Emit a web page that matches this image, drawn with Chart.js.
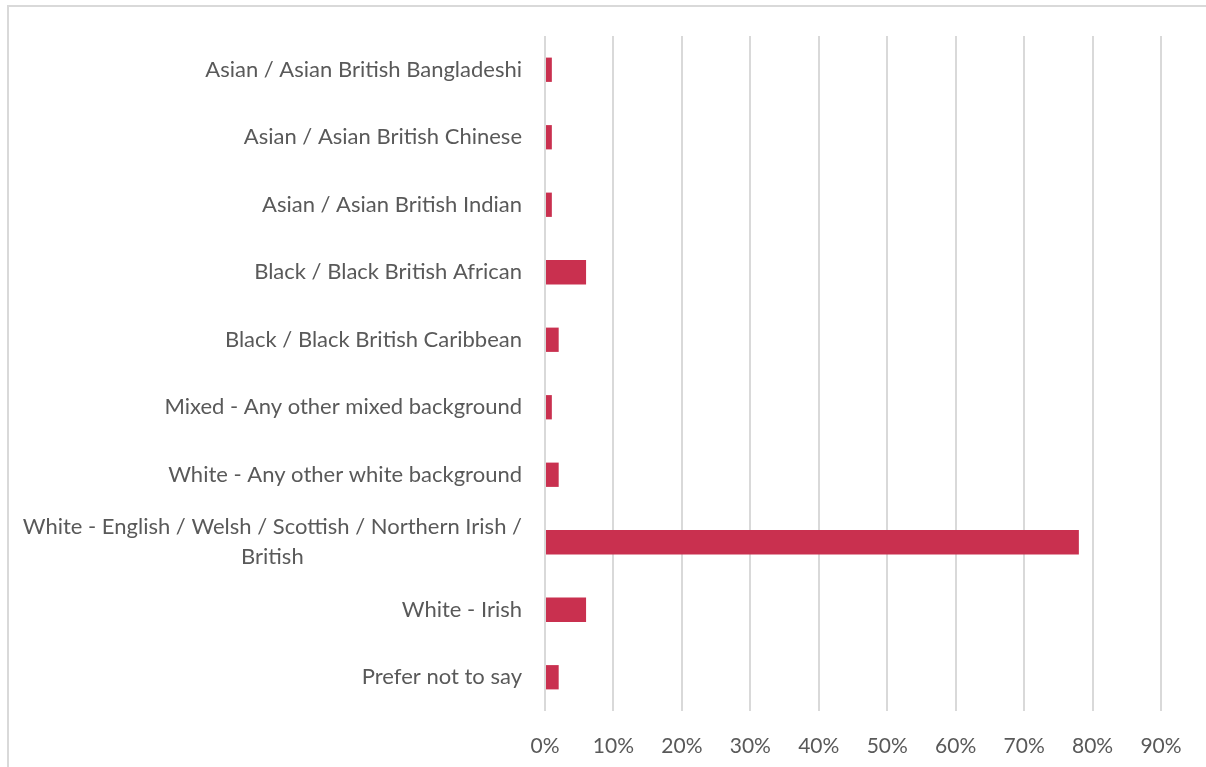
<!DOCTYPE html>
<html>
<head>
<meta charset="utf-8">
<script src="https://cdn.jsdelivr.net/npm/chart.js@4.4.1/dist/chart.umd.min.js"></script>
<style>
  html, body { margin: 0; padding: 0; background: #fff; overflow: hidden; }
  #wrap { position: relative; width: 1206px; height: 767px; overflow: hidden; }
  #frame { position: absolute; left: 7px; top: 5px; right: 0; bottom: 0;
           border-top: 2px solid #d9d9d9; border-left: 2px solid #d9d9d9; }
  #c { position: absolute; left: 0; top: 0; }
</style>
</head>
<body>
<div id="wrap">
  <div id="frame"></div>
  <canvas id="c" width="1206" height="767"></canvas>
</div>
<script>
// Survey responses by ethnic group (share of respondents, %)
const categories = [
  "Asian / Asian British Bangladeshi",
  "Asian / Asian British Chinese",
  "Asian / Asian British Indian",
  "Black / Black British African",
  "Black / Black British Caribbean",
  "Mixed - Any other mixed background",
  "White - Any other white background",
  ["White - English / Welsh / Scottish / Northern Irish /", "British"],
  "White - Irish",
  "Prefer not to say"
];
const shares = [1, 1, 1, 6, 2, 1, 2, 78, 6, 2];
const xTicks = [0, 10, 20, 30, 40, 50, 60, 70, 80, 90];

const FONT = "Lato, 'Open Sans', sans-serif";
const TEXT = "#595959";
const LABEL_RIGHT = 522;   // right edge of category labels
const AXIS_LEFT = 545;     // x of the 0% line

// Category labels are drawn here so wrapped lines can sit centred under each other
const categoryLabels = {
  id: "categoryLabels",
  afterDraw(chart) {
    const ctx = chart.ctx;
    const y = chart.scales.y;
    ctx.save();
    ctx.font = "22px " + FONT;
    ctx.fillStyle = TEXT;
    ctx.textAlign = "center";
    ctx.textBaseline = "middle";
    const lh = 30;
    categories.forEach((lab, i) => {
      const lines = Array.isArray(lab) ? lab : [lab];
      const w = Math.max(...lines.map(l => ctx.measureText(l).width));
      const cx = LABEL_RIGHT - w / 2;
      const cy = y.getPixelForValue(i);
      const top = cy - (lines.length - 1) * lh / 2;
      lines.forEach((l, k) => ctx.fillText(l, cx, top + k * lh));
    });
    ctx.restore();
  }
};

new Chart(document.getElementById("c"), {
  type: "bar",
  data: {
    labels: categories,
    datasets: [{
      data: shares,
      backgroundColor: "#C9304F",
      borderWidth: 0,
      categoryPercentage: 1,
      barPercentage: 0.36
    }]
  },
  options: {
    indexAxis: "y",
    responsive: false,
    animation: false,
    layout: { padding: { top: 36, right: 45, bottom: 0, left: 0 } },
    plugins: { legend: { display: false }, tooltip: { enabled: false } },
    scales: {
      x: {
        min: 0, max: 90,
        afterBuildTicks(s) { s.ticks = xTicks.map(v => ({ value: v })); },
        afterFit(s) { s.height = 56; },
        grid: { color: "#d9d9d9", lineWidth: 2, drawTicks: false },
        border: { display: false },
        ticks: {
          padding: 23,
          color: TEXT,
          font: { family: FONT, size: 21 },
          callback: v => v + "%"
        }
      },
      y: {
        afterFit(s) { s.width = AXIS_LEFT; },
        grid: { display: false, drawTicks: false },
        border: { display: false },
        ticks: { display: false }
      }
    }
  },
  plugins: [categoryLabels]
});
</script>
</body>
</html>
